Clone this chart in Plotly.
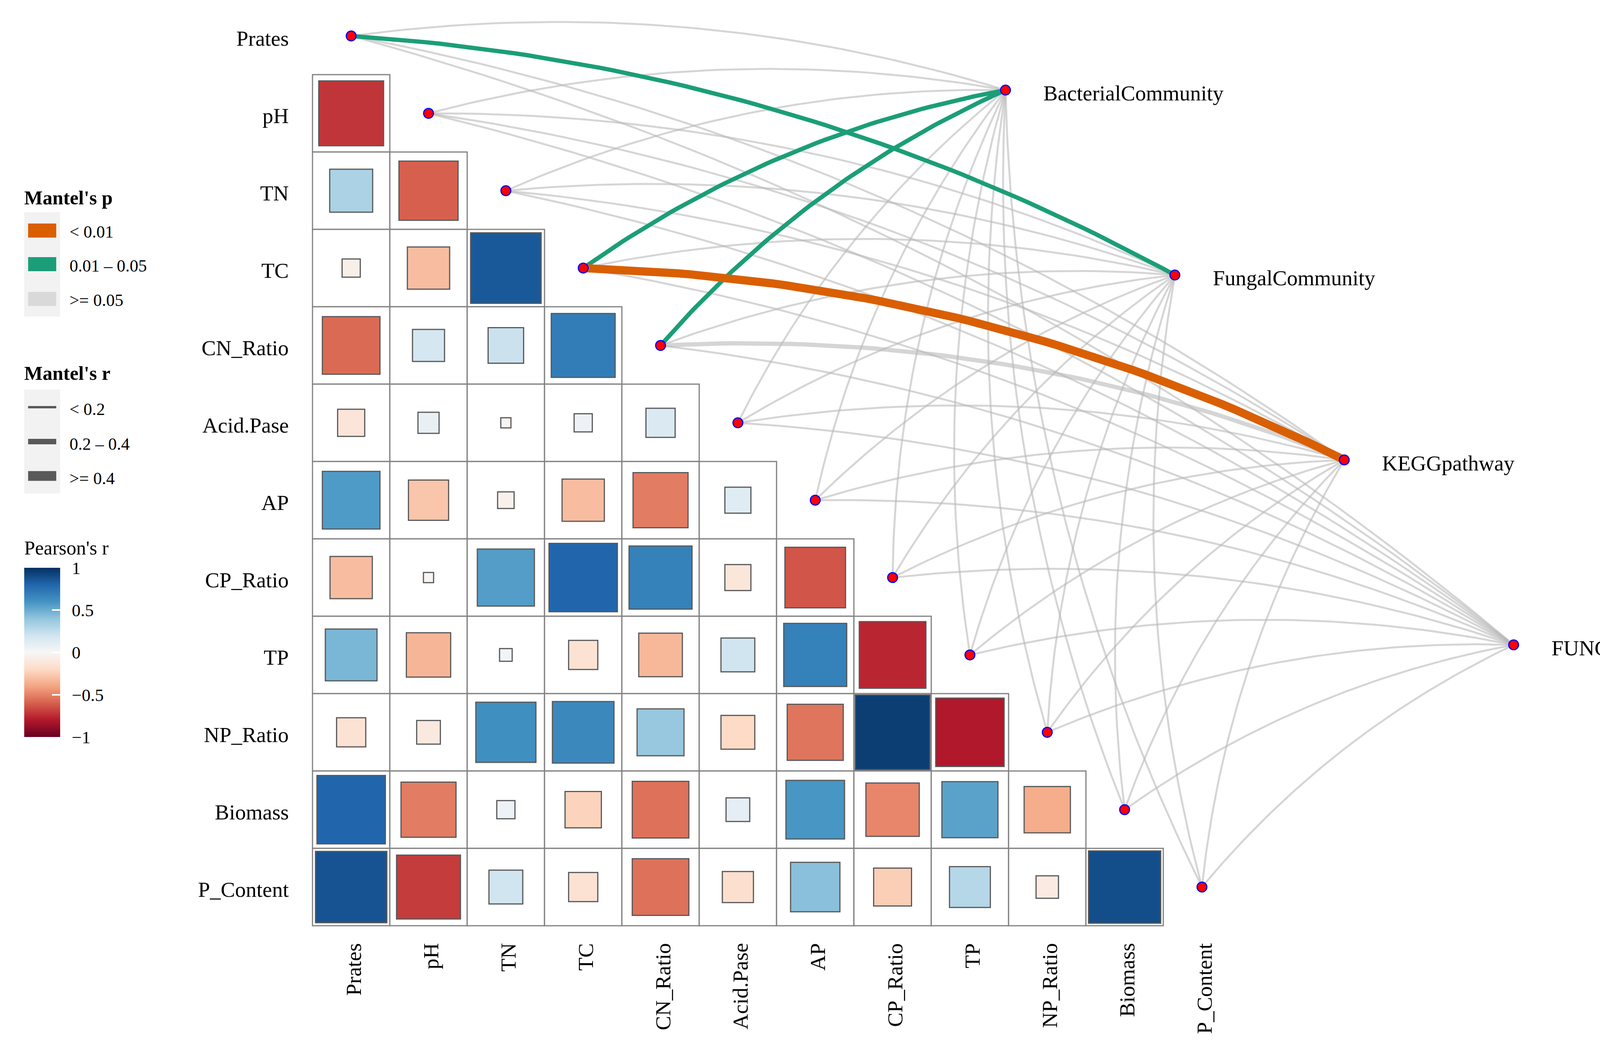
import numpy as np
import plotly.graph_objects as go

# ---------------- data ----------------
variables = ["Prates", "pH", "TN", "TC", "CN_Ratio", "Acid.Pase", "AP",
             "CP_Ratio", "TP", "NP_Ratio", "Biomass", "P_Content"]

# lower triangle of Pearson's r (row i has values for columns 0..i-1)
pearson_r = [
    [-0.72],
    [0.32, -0.60],
    [-0.06, -0.31, 0.85],
    [-0.57, 0.18, 0.22, 0.70],
    [-0.13, 0.08, -0.02, 0.06, 0.15],
    [0.57, -0.28, -0.05, -0.31, -0.52, 0.12],
    [-0.31, -0.02, 0.56, 0.80, 0.68, -0.12, -0.63],
    [0.46, -0.34, 0.03, -0.15, -0.33, 0.20, 0.68, -0.76],
    [-0.15, -0.10, 0.62, 0.65, 0.38, -0.20, -0.54, 0.95, -0.80],
    [0.80, -0.52, 0.06, -0.23, -0.55, 0.10, 0.59, -0.49, 0.54, -0.37],
    [0.87, -0.70, 0.20, -0.15, -0.55, -0.17, 0.42, -0.25, 0.29, -0.09, 0.89],
]

nodes = ["BacterialCommunity", "FungalCommunity", "KEGGpathway", "FUNGuild"]

mantel_r_bacterial = [0.12, 0.08, 0.10, 0.28, 0.26, 0.05, 0.10, 0.09, 0.06, 0.08, 0.11, 0.13]
mantel_r_fungal = [0.25, 0.07, 0.09, 0.12, 0.10, 0.04, 0.08, 0.06, 0.05, 0.07, 0.12, 0.10]
mantel_r_kegg = [0.10, 0.09, 0.08, 0.46, 0.22, 0.05, 0.11, 0.07, 0.06, 0.08, 0.10, 0.09]
mantel_r_funguild = [0.09, 0.06, 0.05, 0.07, 0.08, 0.04, 0.10, 0.06, 0.05, 0.07, 0.08, 0.09]

mantel_p_bacterial = [0.21, 0.45, 0.33, 0.03, 0.04, 0.72, 0.36, 0.41, 0.62, 0.48, 0.27, 0.19]
mantel_p_fungal = [0.02, 0.55, 0.38, 0.17, 0.24, 0.81, 0.44, 0.52, 0.66, 0.49, 0.23, 0.29]
mantel_p_kegg = [0.31, 0.39, 0.47, 0.004, 0.08, 0.69, 0.28, 0.51, 0.58, 0.42, 0.34, 0.37]
mantel_p_funguild = [0.42, 0.63, 0.71, 0.55, 0.49, 0.86, 0.35, 0.61, 0.68, 0.52, 0.46, 0.39]

mantel_r = [mantel_r_bacterial, mantel_r_fungal, mantel_r_kegg, mantel_r_funguild]
mantel_p = [mantel_p_bacterial, mantel_p_fungal, mantel_p_kegg, mantel_p_funguild]

colorbar_ticks = [-1, -0.5, 0, 0.5, 1]
colorbar_ticktext = ["\u22121", "\u22120.5", "0", "0.5", "1"]

# ---------------- layout / style ----------------
W, H = 4290, 2687
CELL = 198.0
X0PX, Y0PX = 899.0, 92.0
xr = [-X0PX / CELL, (W - X0PX) / CELL]
yr = [(H - Y0PX) / CELL, -Y0PX / CELL]
FONT = "Liberation Serif"

rdbu = ['#67001F', '#B2182B', '#D6604D', '#F4A582', '#FDDBC7', '#F7F7F7',
        '#D1E5F0', '#92C5DE', '#4393C3', '#2166AC', '#053061']
colorscale = [[k / 10, c] for k, c in enumerate(rdbu)]

P_COLORS = ['#D95F02', '#1B9E77', 'rgba(185,185,185,0.6)']
R_WIDTHS = [5, 11, 21]

n = len(variables)
node_x = np.linspace(8.46, 15.03, len(nodes))
node_y = np.linspace(0.70, 7.87, len(nodes))

fig = go.Figure()
shapes = []
annotations = []

# grid cells
for i in range(1, n):
    for j in range(i):
        shapes.append(dict(type="rect", xref="x", yref="y",
                           x0=j - 0.5, x1=j + 0.5, y0=i - 0.5, y1=i + 0.5,
                           line=dict(color="#808080", width=3),
                           fillcolor="white", layer="below"))

# mantel links
def p_class(p):
    return 0 if p < 0.01 else (1 if p < 0.05 else 2)

def r_class(r):
    return 0 if r < 0.2 else (1 if r < 0.4 else 2)

edges = []
for k in range(len(nodes)):
    for i in range(n):
        edges.append((p_class(mantel_p[k][i]), r_class(mantel_r[k][i]), k, i))
edges.sort(key=lambda e: (-e[0], e[1]))

t = np.linspace(0, 1, 60)
for pc, rc, k, i in edges:
    x0, y0 = float(i), float(i)
    x2, y2 = node_x[k], node_y[k]
    dx, dy = x2 - x0, y2 - y0
    cx = (x0 + x2) / 2 + 0.11 * dy
    cy = (y0 + y2) / 2 - 0.11 * dx
    bx = (1 - t) ** 2 * x0 + 2 * (1 - t) * t * cx + t ** 2 * x2
    by = (1 - t) ** 2 * y0 + 2 * (1 - t) * t * cy + t ** 2 * y2
    fig.add_trace(go.Scatter(x=bx, y=by, mode="lines",
                             line=dict(color=P_COLORS[pc], width=R_WIDTHS[rc]),
                             hoverinfo="skip", showlegend=False))

# correlation squares
sq_x, sq_y, sq_r = [], [], []
for i in range(1, n):
    for j in range(i):
        sq_x.append(j)
        sq_y.append(i)
        sq_r.append(pearson_r[i - 1][j])
sq_r = np.array(sq_r)
fig.add_trace(go.Scatter(
    x=sq_x, y=sq_y, mode="markers", showlegend=False, hoverinfo="skip",
    marker=dict(symbol="square", size=np.sqrt(np.abs(sq_r)) * CELL - 2,
                opacity=1,
                color=sq_r, colorscale=colorscale, cmin=-1, cmax=1,
                line=dict(color="#595959", width=3),
                colorbar=dict(x=62 / W, xanchor="left", xpad=0,
                              y=1 - 1453 / H, yanchor="top", ypad=0,
                              thickness=92, thicknessmode="pixels",
                              len=433, lenmode="pixels", outlinewidth=0,
                              tickvals=colorbar_ticks,
                              ticktext=["\u00a0\u2009" + s for s in colorbar_ticktext],
                              ticks="inside", ticklen=21, tickwidth=4,
                              tickcolor="white",
                              tickfont=dict(family=FONT, size=45, color="black")))))

# env dots and node dots
fig.add_trace(go.Scatter(
    x=list(range(n)) + list(node_x), y=list(range(n)) + list(node_y),
    mode="markers", showlegend=False, hoverinfo="skip",
    marker=dict(size=25, color="red", opacity=1, line=dict(color="blue", width=3))))

# row labels
for i, v in enumerate(variables):
    annotations.append(dict(x=-0.8, y=i, xref="x", yref="y", text=v,
                            xanchor="right", yanchor="middle", yshift=-6,
                            showarrow=False,
                            font=dict(family=FONT, size=55, color="black")))
# column labels
for j, v in enumerate(variables):
    annotations.append(dict(x=j, y=(2412 / CELL) - Y0PX / CELL, xref="x", yref="y",
                            text=v, textangle=-90, xanchor="center", yanchor="top",
                            xshift=6, showarrow=False,
                            font=dict(family=FONT, size=55, color="black")))
# node labels
for k, nm in enumerate(nodes):
    annotations.append(dict(x=node_x[k] + 0.48, y=node_y[k], xref="x", yref="y",
                            text=nm, xanchor="left", yanchor="middle", yshift=-8,
                            showarrow=False,
                            font=dict(family=FONT, size=55, color="black")))

# ---------------- manual legends (paper coords, pixels) ----------------
def px(x):
    return x / W

def py(y):
    return 1 - y / H

def legend_text(x, y, txt, size=44, bold=False):
    annotations.append(dict(x=px(x), y=py(y), xref="paper", yref="paper",
                            text=("<b>%s</b>" % txt) if bold else txt,
                            xanchor="left", yanchor="middle", showarrow=False,
                            font=dict(family=FONT, size=size, color="black")))

# Mantel's p
legend_text(60, 506, "Mantel's p", size=50, bold=True)
shapes.append(dict(type="rect", xref="paper", yref="paper", x0=px(62), x1=px(154),
                   y0=py(543), y1=py(810), fillcolor="#F2F2F2", line=dict(width=0),
                   layer="below"))
p_labels = ["&lt; 0.01", "0.01 \u2013 0.05", "&gt;= 0.05"]
for idx, (yc, col) in enumerate(zip([590, 676, 765], P_COLORS)):
    fillc = col if idx < 2 else "#D9D9D9"
    shapes.append(dict(type="rect", xref="paper", yref="paper", x0=px(72), x1=px(144),
                       y0=py(yc - 18), y1=py(yc + 18), fillcolor=fillc,
                       line=dict(width=0)))
    legend_text(176, yc + 4, p_labels[idx])

# Mantel's r
legend_text(60, 955, "Mantel's r", size=50, bold=True)
shapes.append(dict(type="rect", xref="paper", yref="paper", x0=px(62), x1=px(154),
                   y0=py(997), y1=py(1263), fillcolor="#F2F2F2", line=dict(width=0),
                   layer="below"))
r_labels = ["&lt; 0.2", "0.2 \u2013 0.4", "&gt;= 0.4"]
for yc, lw, lab in zip([1042, 1130, 1218], [6, 14, 25], r_labels):
    shapes.append(dict(type="line", xref="paper", yref="paper", x0=px(72), x1=px(144),
                       y0=py(yc), y1=py(yc), line=dict(color="#595959", width=lw)))
    legend_text(176, yc + 6, lab)

# Pearson's r title
legend_text(60, 1402, "Pearson's r", size=50)
# left-side white ticks on the colour bar
for v in colorbar_ticks:
    yv = 1453 + (1 - v) / 2 * 433
    shapes.append(dict(type="line", xref="paper", yref="paper", x0=px(62), x1=px(83),
                       y0=py(yv), y1=py(yv), line=dict(color="white", width=4)))

fig.update_layout(
    width=W, height=H, autosize=False,
    margin=dict(l=0, r=0, t=0, b=0, pad=0),
    paper_bgcolor="white", plot_bgcolor="white",
    xaxis=dict(range=xr, visible=False, showgrid=False, zeroline=False),
    yaxis=dict(range=yr, visible=False, showgrid=False, zeroline=False),
    shapes=shapes, annotations=annotations, hovermode=False,
)

fig.write_html("out.html",
               config={"displayModeBar": False},
               post_script="document.body.style.margin='0';"
                           "document.body.style.overflow='hidden';")
